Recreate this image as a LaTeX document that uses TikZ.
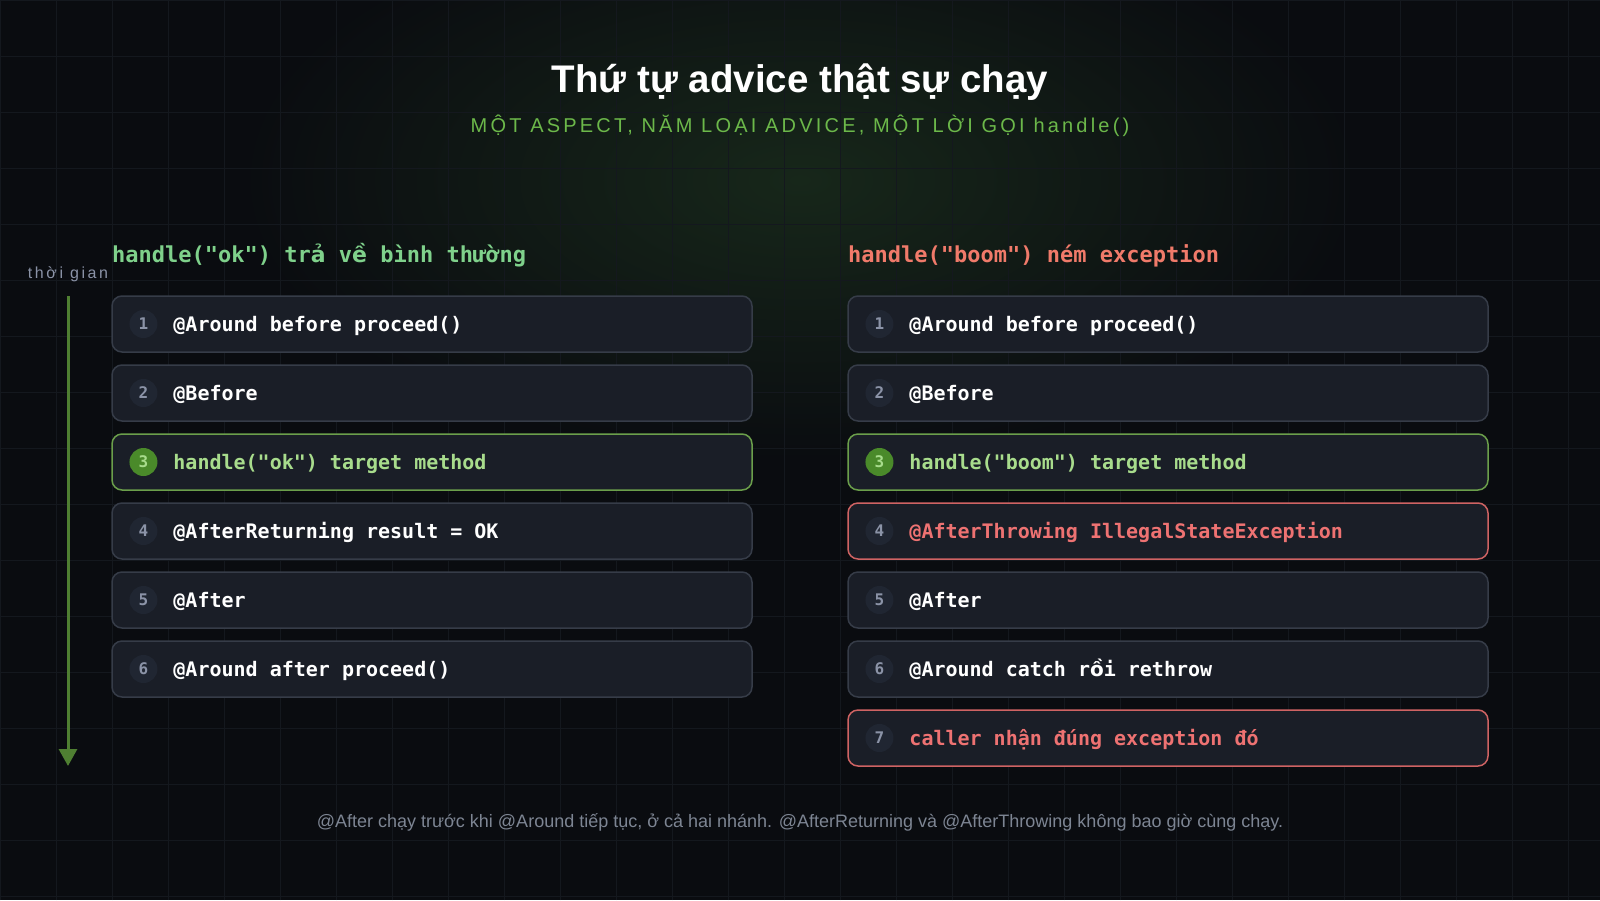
\documentclass[tikz,border=0pt]{standalone}
\usepackage{fontspec}
\usepackage{tikz}
\usetikzlibrary{positioning,arrows.meta}

\setmainfont{Liberation Sans}
\newfontfamily\codefont{DejaVu Sans Mono}
\newfontfamily\vnfont{DejaVu Sans}
\newfontfamily\spacedfont[LetterSpace=16]{Liberation Sans}

\definecolor{bg}{HTML}{0A0C10}
\definecolor{gridline}{HTML}{14181E}
\definecolor{glow}{HTML}{17271A}
\definecolor{boxfill}{HTML}{1A1E27}
\definecolor{boxline}{HTML}{363C48}
\definecolor{badgefill}{HTML}{202632}
\definecolor{numgray}{HTML}{8B93A7}
\definecolor{okline}{HTML}{6B9F4B}
\definecolor{oktext}{HTML}{A8DC8C}
\definecolor{okbadge}{HTML}{4A8A2A}
\definecolor{errline}{HTML}{CF6363}
\definecolor{errtext}{HTML}{EE7272}
\definecolor{headok}{HTML}{7FD18B}
\definecolor{headerr}{HTML}{F07A6A}
\definecolor{subgreen}{HTML}{6CB84A}
\definecolor{mutedtext}{HTML}{7D8593}
\definecolor{timeline}{HTML}{4F7F32}

\begin{document}
\begin{tikzpicture}[x=1pt, y=-1pt]
        \tikzstyle{box}=[draw=boxline, fill=boxfill, line width=1.5pt, rounded corners=10pt,
            minimum width=640pt, minimum height=56pt]
        \tikzstyle{okbox}=[box, draw=okline]
        \tikzstyle{errbox}=[box, draw=errline]
        \tikzstyle{step text}=[inner sep=0pt, text height=14.6pt, text depth=0pt, text=white,
            font=\codefont\bfseries\fontsize{20}{24}\selectfont]
        \tikzstyle{badge}=[circle, fill=badgefill, minimum size=28pt, inner sep=0pt, text=numgray,
            font=\codefont\bfseries\fontsize{16}{18}\selectfont]
        \tikzstyle{okbadge}=[badge, fill=okbadge, text=oktext]
        \tikzstyle{head}=[anchor=base west, inner sep=0pt, font=\codefont\bfseries\fontsize{22}{26}\selectfont]

        \useasboundingbox (0,0) rectangle (1600,900);
        \fill[bg] (0,0) rectangle (1600,900);
        \shade[inner color=glow, outer color=bg] (800,180) ellipse (560 and 280);
        \draw[gridline, line width=0.8pt, step=56pt] (0,0) grid (1600,900);

        % title
        \node (title) [anchor=base, text=white, font=\bfseries\fontsize{38.5}{44}\selectfont] at (800,92) {Thứ tự advice thật sự chạy};
        \node (sub) [anchor=base, text=subgreen, font=\spacedfont\fontsize{20}{24}\selectfont] at (800,132) {MỘT ASPECT, NĂM LOẠI ADVICE, MỘT LỜI GỌI handle()};

        % left column
        \node (lhead) [head, text=headok] at (112,262) {handle("ok") tr{\vnfont ả} v{\vnfont ề} bình thường};
        \node (l1) [box]    at (432,324) {};
        \node (l2) [box]    at (432,393) {};
        \node (l3) [okbox]  at (432,462) {};
        \node (l4) [box]    at (432,531) {};
        \node (l5) [box]    at (432,600) {};
        \node (l6) [box]    at (432,669) {};

        \node (lb1) [badge, right=18pt of l1.west] {1};
        \node (lb2) [badge, right=18pt of l2.west] {2};
        \node (lb3) [okbadge, right=18pt of l3.west] {3};
        \node (lb4) [badge, right=18pt of l4.west] {4};
        \node (lb5) [badge, right=18pt of l5.west] {5};
        \node (lb6) [badge, right=18pt of l6.west] {6};

        \node (lt1) [step text, right=62pt of l1.west] {@Around before proceed()};
        \node (lt2) [step text, right=62pt of l2.west] {@Before};
        \node (lt3) [step text, text=oktext, right=62pt of l3.west] {handle("ok") target method};
        \node (lt4) [step text, right=62pt of l4.west] {@AfterReturning result = OK};
        \node (lt5) [step text, right=62pt of l5.west] {@After};
        \node (lt6) [step text, right=62pt of l6.west] {@Around after proceed()};

        % right column
        \node (rhead) [head, text=headerr] at (848,262) {handle("boom") ném exception};
        \node (r1) [box]    at (1168,324) {};
        \node (r2) [box]    at (1168,393) {};
        \node (r3) [okbox]  at (1168,462) {};
        \node (r4) [errbox] at (1168,531) {};
        \node (r5) [box]    at (1168,600) {};
        \node (r6) [box]    at (1168,669) {};
        \node (r7) [errbox] at (1168,738) {};

        \node (rb1) [badge, right=18pt of r1.west] {1};
        \node (rb2) [badge, right=18pt of r2.west] {2};
        \node (rb3) [okbadge, right=18pt of r3.west] {3};
        \node (rb4) [badge, right=18pt of r4.west] {4};
        \node (rb5) [badge, right=18pt of r5.west] {5};
        \node (rb6) [badge, right=18pt of r6.west] {6};
        \node (rb7) [badge, right=18pt of r7.west] {7};

        \node (rt1) [step text, right=62pt of r1.west] {@Around before proceed()};
        \node (rt2) [step text, right=62pt of r2.west] {@Before};
        \node (rt3) [step text, text=oktext, right=62pt of r3.west] {handle("boom") target method};
        \node (rt4) [step text, text=errtext, right=62pt of r4.west] {@AfterThrowing IllegalStateException};
        \node (rt5) [step text, right=62pt of r5.west] {@After};
        \node (rt6) [step text, right=62pt of r6.west] {@Around catch r{\vnfont ồ}i rethrow};
        \node (rt7) [step text, text=errtext, right=62pt of r7.west] {caller nhận đúng exception đó};

        % time axis
        \node (time) [anchor=base, text=numgray, font=\spacedfont\fontsize{16}{18}\selectfont] at (68,278) {thời gian};
        \coordinate (tstart) at (68,296);
        \coordinate (tend) at (68,766);
        \draw[timeline, line width=3pt, -{Triangle[width=18pt, length=17pt]}] (tstart) -- (tend);

        \node (note) [anchor=base, text=mutedtext, font=\fontsize{18}{21}\selectfont] at (800,827) {@After chạy trước khi @Around tiếp tục, ở cả hai nhánh. @AfterReturning và @AfterThrowing không bao giờ cùng chạy.};
    \end{tikzpicture}
\end{document}
